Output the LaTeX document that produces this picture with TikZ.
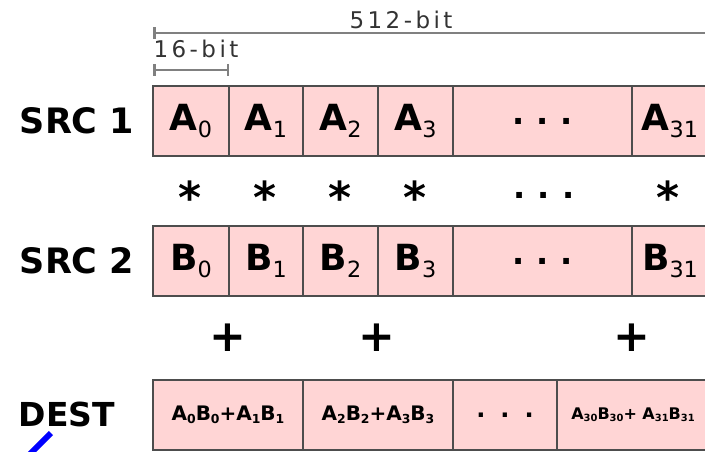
\documentclass[tikz,border=0pt]{standalone}
\usepackage{fontspec}
\setmainfont{DejaVu Sans}
\newfontfamily\bitfont[LetterSpace=15]{DejaVu Sans}
\usetikzlibrary{positioning}
\usetikzlibrary{arrows.meta}
\definecolor{cellpink}{HTML}{FFD5D5}
\definecolor{celledge}{HTML}{4D4D4D}
% lane index: small regular digits, set low
\newcommand{\sub}[2]{#1\raisebox{-0.19em}{\mdseries\scalebox{0.62}{#2}}}
\newcommand{\bsub}[2]{#1\raisebox{-0.15em}{\scalebox{0.62}{#2}}}
\tikzset{
    cellnode/.style = {rectangle, draw=celledge, line width=1.5pt, fill=cellpink, minimum height=70pt, inner sep=0pt, font=\fontsize{36}{38}\selectfont\bfseries},
    sumnode/.style = {cellnode, font=\fontsize{20}{22}\selectfont\bfseries},
    rownode/.style = {font=\fontsize{35}{38}\selectfont\bfseries, inner sep=0pt},
    opnode/.style = {font=\fontsize{44}{46}\selectfont\bfseries, inner sep=0pt},
    bitnode/.style = {font=\fontsize{23}{24}\bitfont, text=black!80, inner sep=0pt},
    edgebar/.style = {line width=2.5pt, gray},
}
\begin{document}
\begin{tikzpicture}[x=1pt,y=-1pt]
\useasboundingbox (0,0) rectangle (705,452);
% widths
\coordinate (w0) at (153,33);
\coordinate (w1) at (712,33);
\coordinate (h0) at (153,70);
\coordinate (h1) at (229,70);
\draw[edgebar, {Bar[width=12pt]}-] (w0) -- (w1);
\draw[edgebar, {Bar[width=12pt]}-{Bar[width=12pt]}] (h0) -- (h1);
\node[bitnode] at (401,20) (wl) {512-bit};
\node[bitnode] at (196,49) (hl) {16-bit};
%
\node[rownode] at (77,121) (src1) {SRC 1};
\node[rownode] at (77,261) (src2) {SRC 2};
\node[rownode, font=\fontsize{33}{36}\selectfont\bfseries] at (67,414) (dest) {DEST};
%
\node[cellnode, minimum width=76pt] at (191,121) (a0) {\sub{A}{0}};
\node[cellnode, minimum width=74pt] at (266,121) (a1) {\sub{A}{1}};
\node[cellnode, minimum width=75pt] at (340.5,121) (a2) {\sub{A}{2}};
\node[cellnode, minimum width=75pt] at (415.5,121) (a3) {\sub{A}{3}};
\node[cellnode, minimum width=179pt, font=\fontsize{32}{34}\selectfont\bfseries] at (542.5,121) (an) {.\hspace{12pt}.\hspace{12pt}.};
\node[cellnode, minimum width=76pt] at (670,121) (a31) {\sub{A}{31}};
%
\node[cellnode, minimum width=76pt] at (191,261) (b0) {\sub{B}{0}};
\node[cellnode, minimum width=74pt] at (266,261) (b1) {\sub{B}{1}};
\node[cellnode, minimum width=75pt] at (340.5,261) (b2) {\sub{B}{2}};
\node[cellnode, minimum width=75pt] at (415.5,261) (b3) {\sub{B}{3}};
\node[cellnode, minimum width=179pt, font=\fontsize{32}{34}\selectfont\bfseries] at (542.5,261) (bn) {.\hspace{12pt}.\hspace{12pt}.};
\node[cellnode, minimum width=76pt] at (670,261) (b31) {\sub{B}{31}};
%
\node[sumnode, minimum width=150pt] at (228,415) (d0) {\bsub{A}{0}\bsub{B}{0}+\bsub{A}{1}\bsub{B}{1}};
\node[sumnode, minimum width=150pt] at (378,415) (d1) {\bsub{A}{2}\bsub{B}{2}+\bsub{A}{3}\bsub{B}{3}};
\node[sumnode, minimum width=104pt, font=\fontsize{24}{26}\selectfont\bfseries] at (505,415) (dn) {.\hspace{15pt}.\hspace{15pt}.};
\node[sumnode, minimum width=152pt, font=\fontsize{16}{18}\selectfont\bfseries] at (633,415) (d15) {\bsub{A}{30}\bsub{B}{30}+ \bsub{A}{31}\bsub{B}{31}};
%
\node[opnode] at (190,197) (m0) {*};
\node[opnode] at (265,197) (m1) {*};
\node[opnode] at (340,197) (m2) {*};
\node[opnode] at (415,197) (m3) {*};
\node[opnode, font=\fontsize{32}{34}\selectfont\bfseries] at (544,195) (mn) {.\hspace{12pt}.\hspace{12pt}.};
\node[opnode] at (668,197) (m31) {*};
%
\node[opnode] at (228,338) (p0) {+};
\node[opnode] at (377,338) (p1) {+};
\node[opnode] at (632,338) (p15) {+};
%
\coordinate (s0) at (30,454);
\coordinate (s1) at (51,433);
\draw[blue, line width=6pt] (s0) -- (s1);
\end{tikzpicture}
\end{document}
